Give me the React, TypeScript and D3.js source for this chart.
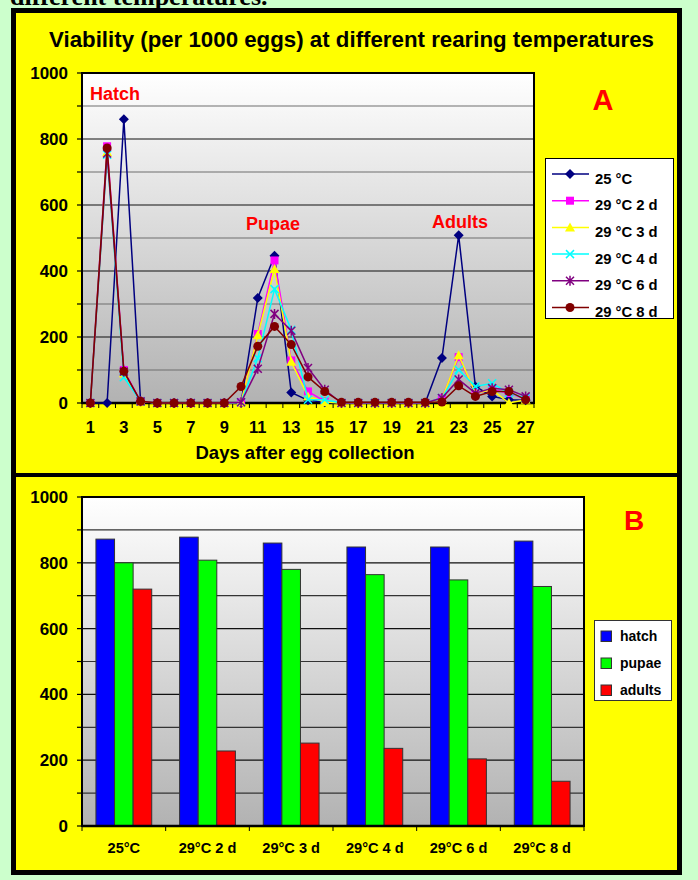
import React from "react";
import * as d3 from "d3";

// ---------- Data ----------
const days = [1, 2, 3, 4, 5, 6, 7, 8, 9, 10, 11, 12, 13, 14, 15, 16, 17, 18, 19, 20, 21, 22, 23, 24, 25, 26, 27];
const dayTickLabels = [1, 3, 5, 7, 9, 11, 13, 15, 17, 19, 21, 23, 25, 27];

const seriesNames = ["25 °C", "29 °C 2 d", "29 °C 3 d", "29 °C 4 d", "29 °C 6 d", "29 °C 8 d"];
const s25 = [0, 0, 860, 5, 0, 0, 0, 0, 0, 0, 318, 446, 32, 8, 2, 0, 0, 0, 0, 0, 0, 136, 508, 50, 20, 10, 8];
const s29_2 = [0, 778, 100, 5, 0, 0, 0, 0, 0, 2, 209, 432, 129, 35, 5, 0, 0, 0, 0, 0, 0, 15, 139, 30, 40, 30, 12];
const s29_3 = [0, 760, 90, 5, 0, 0, 0, 0, 0, 2, 205, 406, 125, 20, 3, 0, 0, 0, 0, 0, 0, 12, 145, 30, 40, 0, 10];
const s29_4 = [0, 752, 78, 5, 0, 0, 0, 0, 0, 2, 136, 345, 222, 10, 10, 0, 0, 0, 0, 0, 0, 15, 101, 50, 60, 30, 15];
const s29_6 = [0, 756, 95, 5, 0, 0, 0, 0, 0, 2, 104, 270, 219, 106, 40, 0, 0, 0, 0, 0, 0, 15, 71, 30, 45, 40, 20];
const s29_8 = [0, 773, 96, 5, 0, 0, 0, 0, 0, 50, 172, 232, 177, 79, 35, 2, 2, 2, 2, 2, 2, 3, 52, 20, 35, 35, 10];

const yTicksA = [0, 200, 400, 600, 800, 1000];

const barCategories = ["25°C", "29°C 2 d", "29°C 3 d", "29°C 4 d", "29°C 6 d", "29°C 8 d"];
const barSeriesNames = ["hatch", "pupae", "adults"];
const hatch = [872, 878, 860, 848, 848, 866];
const pupae = [800, 808, 780, 764, 748, 728];
const adults = [720, 228, 252, 236, 204, 136];

// ---------- Styles ----------
const FONT = "'Liberation Sans', Arial, Helvetica, sans-serif";
const lineColors = ["#000080", "#FF00FF", "#FFFF00", "#00FFFF", "#800080", "#800000"];
const markerTypes = ["diamond", "square", "triangle", "x", "star", "circle"];
const barColors = ["#0000FF", "#00FF00", "#FF0000"];

function Marker({ type, x, y, color }: { type: string; x: number; y: number; color: string }) {
  switch (type) {
    case "diamond":
      return <path d={`M${x},${y - 5}L${x + 5},${y}L${x},${y + 5}L${x - 5},${y}Z`} fill={color} />;
    case "square":
      return <rect x={x - 4} y={y - 4} width={8} height={8} fill={color} />;
    case "triangle":
      return <path d={`M${x},${y - 5}L${x + 5},${y + 4}L${x - 5},${y + 4}Z`} fill={color} />;
    case "x":
      return (
        <path d={`M${x - 4},${y - 4}L${x + 4},${y + 4}M${x - 4},${y + 4}L${x + 4},${y - 4}`} stroke={color} strokeWidth={1.5} />
      );
    case "star":
      return (
        <path
          d={`M${x - 4},${y - 4}L${x + 4},${y + 4}M${x - 4},${y + 4}L${x + 4},${y - 4}M${x},${y - 5}L${x},${y + 5}`}
          stroke={color}
          strokeWidth={1.5}
        />
      );
    default:
      return <circle cx={x} cy={y} r={4.5} fill={color} />;
  }
}

export default function App() {
  // ---------- Chart A ----------
  const A = { left: 82, right: 534, top: 73, bottom: 403 };
  const xA = d3.scaleBand<number>().domain(days).range([A.left, A.right]).padding(0);
  const yA = d3.scaleLinear().domain([0, 1000]).range([A.bottom, A.top]);
  const seriesA = [s25, s29_2, s29_3, s29_4, s29_6, s29_8];
  const lineGen = d3
    .line<number>()
    .x((_, i) => (xA(days[i]) as number) + xA.bandwidth() / 2)
    .y((d) => yA(d));
  const hundredsA = d3.range(0, 1001, 100);

  // ---------- Chart B ----------
  const B = { left: 82, right: 584, top: 497, bottom: 826 };
  const x0 = d3.scaleBand<string>().domain(barCategories).range([B.left, B.right]).padding(0);
  const x1 = d3.scaleBand<string>().domain(barSeriesNames).range([0, x0.bandwidth()]).paddingInner(0).paddingOuter(0.75);
  const yB = d3.scaleLinear().domain([0, 1000]).range([B.bottom, B.top]);
  const barSeries = [hatch, pupae, adults];
  const hundredsB = d3.range(0, 1001, 100);

  return (
    <svg
      width={698}
      height={880}
      style={{ position: "absolute", left: 0, top: 0, display: "block" }}
      fontFamily={FONT}
    >
      <defs>
        <linearGradient id="plotGrad" x1="0" y1="0" x2="0" y2="1">
          <stop offset="0" stopColor="#ffffff" />
          <stop offset="1" stopColor="#b2b2b2" />
        </linearGradient>
      </defs>
      <rect x={0} y={0} width={698} height={880} fill="#CCFFCC" />
      <text x={10} y={5} fontFamily="'Liberation Serif', 'Times New Roman', serif" fontWeight="bold" fontSize={26} fill="#000">
        different temperatures.
      </text>

      {/* frame */}
      <rect x={11} y={8} width={671} height={867} fill="#000" />
      <rect x={16} y={13} width={661} height={460} fill="#FFFF00" />
      <rect x={16} y={477} width={661} height={393} fill="#FFFF00" />

      {/* ================= Chart A ================= */}
      <text
        x={49}
        y={47}
        fontWeight="bold"
        fontSize={21.5}
        textLength={605}
        lengthAdjust="spacingAndGlyphs"
        fill="#000"
      >
        Viability (per 1000 eggs) at different rearing temperatures
      </text>
      <rect x={A.left} y={A.top} width={A.right - A.left} height={A.bottom - A.top} fill="url(#plotGrad)" />
      {hundredsA.map((v) =>
        v === 0 ? null : (
          <line
            key={"ga" + v}
            x1={A.left}
            x2={A.right}
            y1={yA(v)}
            y2={yA(v)}
            stroke={v % 200 === 0 ? "#111" : "#6e6e6e"}
            strokeWidth={1.2}
          />
        )
      )}
      <rect
        x={A.left}
        y={A.top}
        width={A.right - A.left}
        height={A.bottom - A.top}
        fill="none"
        stroke="#000"
        strokeWidth={2}
      />
      {/* y ticks A */}
      {hundredsA.map((v) => (
        <line key={"ta" + v} x1={A.left - 5} x2={A.left} y1={yA(v)} y2={yA(v)} stroke="#000" strokeWidth={1.2} />
      ))}
      {yTicksA.map((v) => (
        <text key={"la" + v} x={68} y={yA(v) + 6} textAnchor="end" fontWeight="bold" fontSize={17} fill="#000">
          {v}
        </text>
      ))}
      {/* x ticks A */}
      {days.map((d) => (
        <line
          key={"xta" + d}
          x1={xA(d) as number}
          x2={xA(d) as number}
          y1={A.bottom}
          y2={A.bottom + 5}
          stroke="#000"
          strokeWidth={1}
        />
      ))}
      <line x1={A.right} x2={A.right} y1={A.bottom} y2={A.bottom + 5} stroke="#000" />
      {dayTickLabels.map((d) => (
        <text
          key={"xla" + d}
          x={(xA(d) as number) + xA.bandwidth() / 2}
          y={433}
          textAnchor="middle"
          fontWeight="bold"
          fontSize={16.5}
          fill="#000"
        >
          {d}
        </text>
      ))}
      <line x1={A.left} x2={A.right} y1={A.bottom} y2={A.bottom} stroke="#000" strokeWidth={2.5} />
      <line x1={A.left} x2={A.left} y1={A.top} y2={A.bottom} stroke="#000" strokeWidth={2} />
      <text x={305} y={459} textAnchor="middle" fontWeight="bold" fontSize={18.5} fill="#000">
        Days after egg collection
      </text>

      {/* series */}
      {seriesA.map((s, si) => (
        <g key={"s" + si}>
          <path d={lineGen(s) as string} fill="none" stroke={lineColors[si]} strokeWidth={1.5} />
          {s.map((v, i) => (
            <Marker
              key={i}
              type={markerTypes[si]}
              x={(xA(days[i]) as number) + xA.bandwidth() / 2}
              y={yA(v)}
              color={lineColors[si]}
            />
          ))}
        </g>
      ))}

      <text x={90} y={100} fontWeight="bold" fontSize={18} fill="#FF0000">
        Hatch
      </text>
      <text x={246} y={230} fontWeight="bold" fontSize={18} fill="#FF0000">
        Pupae
      </text>
      <text x={432} y={228} fontWeight="bold" fontSize={18} fill="#FF0000">
        Adults
      </text>
      <text x={603} y={110} textAnchor="middle" fontWeight="bold" fontSize={29} fill="#FF0000">
        A
      </text>

      {/* legend A */}
      <rect x={545.5} y={158.5} width={128} height={160} fill="#fff" stroke="#000" strokeWidth={1} />
      {seriesNames.map((n, i) => {
        const cy = 174 + i * 26.7;
        return (
          <g key={"lga" + i}>
            <line x1={552} x2={589} y1={cy} y2={cy} stroke={lineColors[i]} strokeWidth={1.5} />
            <Marker type={markerTypes[i]} x={570} y={cy} color={lineColors[i]} />
            <text x={595} y={cy + 9.5} fontWeight="bold" fontSize={14.8} fill="#000">
              {n}
            </text>
          </g>
        );
      })}

      {/* ================= Chart B ================= */}
      <rect x={B.left} y={B.top} width={B.right - B.left} height={B.bottom - B.top} fill="url(#plotGrad)" />
      {hundredsB.map((v) =>
        v === 0 ? null : (
          <line
            key={"gb" + v}
            x1={B.left}
            x2={B.right}
            y1={yB(v)}
            y2={yB(v)}
            stroke={v % 200 === 0 ? "#111" : "#333"}
            strokeWidth={1.2}
          />
        )
      )}
      <rect
        x={B.left}
        y={B.top}
        width={B.right - B.left}
        height={B.bottom - B.top}
        fill="none"
        stroke="#000"
        strokeWidth={2}
      />
      {barCategories.map((c, ci) => (
        <g key={"bg" + ci}>
          {barSeries.map((s, si) => {
            const x = (x0(c) as number) + (x1(barSeriesNames[si]) as number);
            return (
              <rect
                key={si}
                x={x}
                y={yB(s[ci])}
                width={x1.bandwidth()}
                height={B.bottom - yB(s[ci])}
                fill={barColors[si]}
                stroke="#333"
                strokeWidth={1}
              />
            );
          })}
        </g>
      ))}
      {hundredsB.map((v) => (
        <line key={"tb" + v} x1={B.left - 5} x2={B.left} y1={yB(v)} y2={yB(v)} stroke="#000" strokeWidth={1.2} />
      ))}
      {yTicksA.map((v) => (
        <text key={"lb" + v} x={68} y={yB(v) + 6} textAnchor="end" fontWeight="bold" fontSize={17} fill="#000">
          {v}
        </text>
      ))}
      {barCategories.map((c) => (
        <line
          key={"xtb" + c}
          x1={x0(c) as number}
          x2={x0(c) as number}
          y1={B.bottom}
          y2={B.bottom + 5}
          stroke="#000"
        />
      ))}
      <line x1={B.right} x2={B.right} y1={B.bottom} y2={B.bottom + 5} stroke="#000" />
      {barCategories.map((c) => (
        <text
          key={"xlb" + c}
          x={(x0(c) as number) + x0.bandwidth() / 2}
          y={853}
          textAnchor="middle"
          fontWeight="bold"
          fontSize={14.6}
          fill="#000"
        >
          {c}
        </text>
      ))}
      <line x1={B.left} x2={B.right} y1={B.bottom} y2={B.bottom} stroke="#000" strokeWidth={2.5} />
      <line x1={B.left} x2={B.left} y1={B.top} y2={B.bottom} stroke="#000" strokeWidth={2} />
      <text x={634} y={530} textAnchor="middle" fontWeight="bold" fontSize={28} fill="#FF0000">
        B
      </text>

      {/* legend B */}
      <rect x={594.5} y={620.5} width={77} height={80} fill="#fff" stroke="#333" strokeWidth={1} />
      {barSeriesNames.map((n, i) => {
        const cy = 636 + i * 27;
        return (
          <g key={"lgb" + i}>
            <rect x={601} y={cy - 5} width={10.5} height={10.5} fill={barColors[i]} stroke="#333" strokeWidth={1} />
            <text x={620} y={cy + 5} fontWeight="bold" fontSize={14} fill="#000">
              {n}
            </text>
          </g>
        );
      })}
    </svg>
  );
}
